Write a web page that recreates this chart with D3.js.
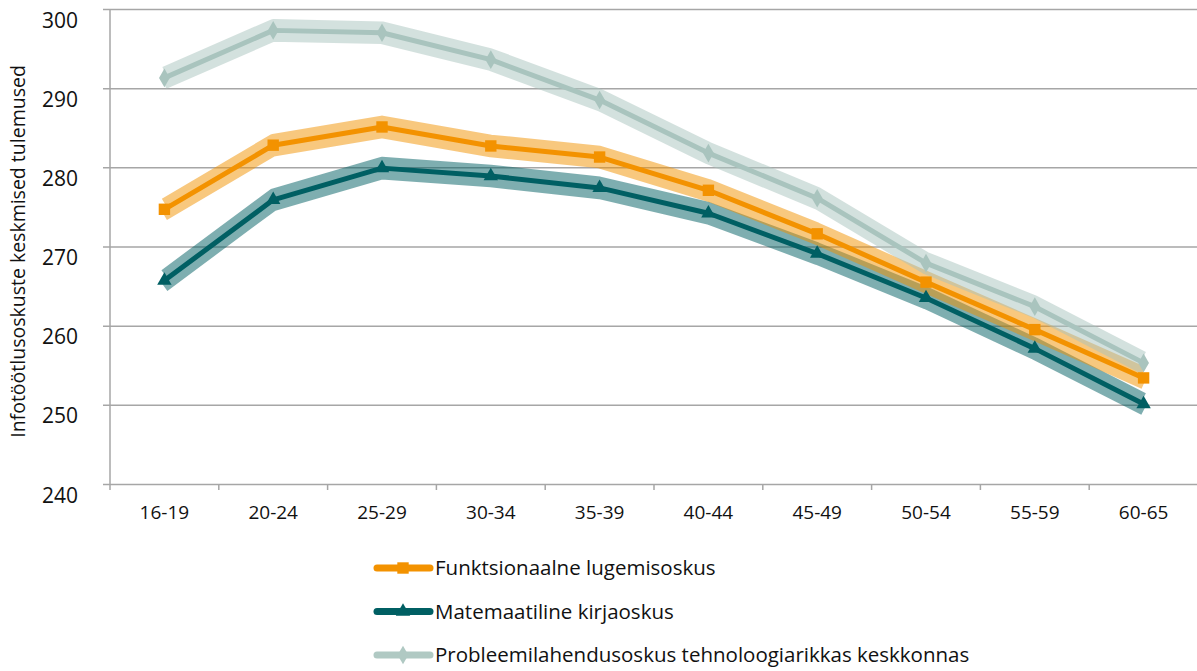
<!DOCTYPE html>
<html>
<head>
<meta charset="utf-8">
<script src="https://cdn.jsdelivr.net/npm/d3@7"></script>
<style>
  body { margin: 0; background: #fff; }
  text { font-family: "Open Sans", sans-serif; fill: #111; }
</style>
</head>
<body>
<div id="chart"></div>
<script>
// age groups and mean scores
const ageGroups = ["16-19", "20-24", "25-29", "30-34", "35-39", "40-44", "45-49", "50-54", "55-59", "60-65"];
const lugemine = [274.7, 282.8, 285.1, 282.7, 281.3, 277.1, 271.6, 265.5, 259.5, 253.4];
const matemaatika = [265.7, 275.9, 279.9, 278.9, 277.4, 274.2, 269.1, 263.5, 257.1, 250.1];
const probleem = [291.3, 297.3, 297.0, 293.6, 288.5, 281.8, 276.1, 267.9, 262.4, 255.3];
// half width of the confidence band
const lugemineCi = [0.8, 0.8, 0.8, 0.8, 0.8, 0.8, 0.8, 0.8, 0.8, 0.8];
const matemaatikaCi = [0.8, 0.8, 0.8, 0.8, 0.8, 0.8, 0.8, 0.8, 0.8, 0.8];
const probleemCi = [0.8, 0.8, 0.8, 0.8, 0.8, 0.8, 0.8, 0.8, 0.8, 0.8];
const yTicks = [240, 250, 260, 270, 280, 290, 300];
const seriesNames = ["Funktsionaalne lugemisoskus", "Matemaatiline kirjaoskus", "Probleemilahendusoskus tehnoloogiarikkas keskkonnas"];

const series = [
  {name: seriesNames[1], values: matemaatika, ci: matemaatikaCi, color: "#005f63", legend: "#005f63", marker: d3.symbolTriangle, size: 90},
  {name: seriesNames[0], values: lugemine, ci: lugemineCi, color: "#f39200", legend: "#f39200", marker: d3.symbolSquare, size: 130},
  {name: seriesNames[2], values: probleem, ci: probleemCi, color: "#a9c4be", legend: "#b0c9c3", marker: d3.symbolDiamond, size: 100}
];

const W = 1197, H = 671;
const padL = 110, padR = 1198, padT = 9, padB = 484;

const svg = d3.select("#chart").append("svg").attr("width", W).attr("height", H);

const x = d3.scaleBand().domain(ageGroups).range([padL, padR]);
const y = d3.scaleLinear().domain([240, 300]).range([padB, padT]);
const cx = d => x(d) + x.bandwidth() / 2;

// grid + y axis
const yAxis = svg.append("g")
  .attr("transform", `translate(${padL},0)`)
  .call(d3.axisLeft(y).tickValues(yTicks).tickSize(-(padR - padL)).tickFormat(d3.format("d")));
yAxis.select(".domain").remove();
yAxis.selectAll(".tick line").attr("x1", -7).attr("stroke", "#a6a6a6").attr("stroke-width", 1.5);
yAxis.selectAll(".tick text").attr("x", -32).attr("dy", 18).style("font-size", "21px");

// left axis line
svg.append("line").attr("x1", padL).attr("x2", padL).attr("y1", padT).attr("y2", padB + 6)
  .attr("stroke", "#a6a6a6").attr("stroke-width", 1.5);

// x axis labels and boundary ticks
const xAxis = svg.append("g")
  .attr("transform", `translate(0,${padB})`)
  .call(d3.axisBottom(x).tickSize(0).tickPadding(22));
xAxis.select(".domain").remove();
xAxis.selectAll(".tick text").style("font-size", "19px");
svg.append("g").selectAll("line").data(ageGroups.slice(1)).join("line")
  .attr("x1", d => x(d)).attr("x2", d => x(d))
  .attr("y1", padB).attr("y2", padB + 6)
  .attr("stroke", "#a6a6a6").attr("stroke-width", 1.5);

// y title
svg.append("text")
  .attr("transform", `translate(25,${(padT + padB) / 2 + 5}) rotate(-90)`)
  .attr("text-anchor", "middle")
  .style("font-size", "19.5px")
  .text("Infotöötlusoskuste keskmised tulemused");

const line = d3.line().x(d => cx(d.age)).y(d => y(d.v));

// confidence bands: upper and lower bound drawn as wide strokes, half transparent
series.forEach(s => {
  const g = svg.append("g").attr("opacity", 0.5);
  const lo = ageGroups.map((a, i) => ({age: a, v: s.values[i] - s.ci[i]}));
  const hi = ageGroups.map((a, i) => ({age: a, v: s.values[i] + s.ci[i]}));
  [lo, hi].forEach(pts => {
    g.append("path").attr("d", line(pts)).attr("fill", "none")
      .attr("stroke", s.color).attr("stroke-width", 10).attr("stroke-linejoin", "round");
  });
});

// mean lines with markers
series.forEach(s => {
  const pts = ageGroups.map((a, i) => ({age: a, v: s.values[i]}));
  svg.append("path").attr("d", line(pts)).attr("fill", "none")
    .attr("stroke", s.color).attr("stroke-width", 5).attr("stroke-linejoin", "round");
  svg.append("g").selectAll("path").data(pts).join("path")
    .attr("transform", d => `translate(${cx(d.age)},${y(d.v)})`)
    .attr("d", d3.symbol().type(s.marker).size(s.size))
    .attr("fill", s.color);
});

// legend
const legendOrder = [series[1], series[0], series[2]];
const lg = svg.append("g").selectAll("g").data(legendOrder).join("g")
  .attr("transform", (d, i) => `translate(374,${568 + i * 43.5})`);
lg.append("line").attr("x1", 3).attr("x2", 56).attr("stroke", d => d.legend)
  .attr("stroke-width", 7).attr("stroke-linecap", "round");
lg.append("path").attr("transform", "translate(29,0)")
  .attr("d", d => d3.symbol().type(d.marker).size(d.size)()).attr("fill", d => d.legend);
lg.append("text").attr("x", 61).attr("y", 7).style("font-size", "20.5px").text(d => d.name);
</script>
</body>
</html>
